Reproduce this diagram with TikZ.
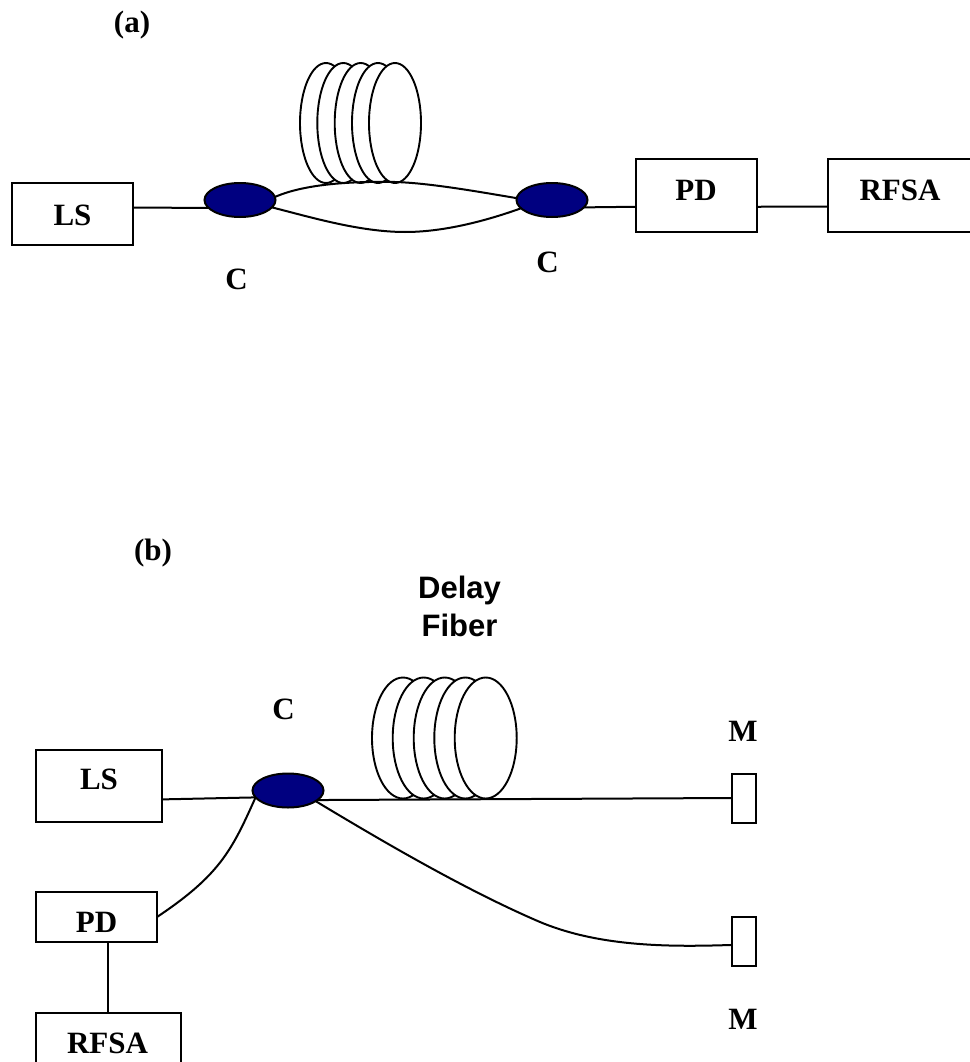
\documentclass[tikz,border=0pt]{standalone}
\usepackage{fontspec}
\setmainfont{Liberation Serif}
\setsansfont{Liberation Sans}
\usetikzlibrary{shapes.geometric}
\definecolor{navyblue}{RGB}{0,0,128}
\tikzset{
  box/.style={draw=black,fill=white,line width=2pt,rectangle,inner sep=0pt,outer sep=0pt},
  coupler/.style={draw=black,fill=navyblue,line width=2pt,ellipse,inner sep=0pt,outer sep=0pt,minimum width=71pt,minimum height=34pt},
  loop/.style={draw=black,fill=white,line width=1.9pt,ellipse,inner sep=0pt,outer sep=0pt},
  loopa/.style={loop,minimum width=52pt,minimum height=120pt},
  loopb/.style={loop,minimum width=62pt,minimum height=121pt},
  lbl/.style={font=\fontsize{31}{34}\selectfont\bfseries,inner sep=0pt},
  slbl/.style={font=\fontsize{31}{38}\selectfont\sffamily\bfseries,inner sep=0pt,align=center},
  wire/.style={draw=black,line width=2pt},
}
\begin{document}
\begin{tikzpicture}[x=1pt,y=-1pt]
\useasboundingbox (0,0) rectangle (969,1062);
% ---- (a)
\node[lbl] (tA) at (132,25) {(a)};
\foreach \n/\x in {1/326,2/343.3,3/360.7,4/378,5/395}
  \node[loopa] (ca\n) at (\x,123) {};
\node[box,minimum width=121pt,minimum height=62pt] (lsA) at (72.5,214) {};
\node[lbl] (lsAt) at (72.5,215) {LS};
\node[box,minimum width=121pt,minimum height=73pt] (pdA) at (696.5,195) {};
\node[lbl] (pdAt) at (696,190.5) {PD};
\node[box,minimum width=146pt,minimum height=73pt] (rfA) at (901,195) {};
\node[lbl] (rfAt) at (900,190.5) {RFSA};
\node[coupler] (c1) at (240,200) {};
\node[coupler] (c2) at (552,200) {};
\node[lbl] (c1t) at (236.5,279) {C};
\node[lbl] (c2t) at (547.5,262) {C};
\draw[wire] (lsA.6) -- (c1.194);
\draw[wire] (c2.-13) -- (pdA.191);
\draw[wire] (pdA.-11) -- (rfA.189);
\draw[wire] (c1.5) .. controls (300,186) and (340,181) .. (395,182)
  .. controls (430,183) and (480,192) .. (c2.177);
\draw[wire] (c1.-13) .. controls (310,217) and (360,232) .. (405,232)
  .. controls (440,232) and (480,223) .. (c2.195);
% ---- (b)
\node[lbl] (tB) at (153,553) {(b)};
\node[slbl] (delay) at (459.5,606) {Delay\\Fiber};
\foreach \n/\x in {1/403,2/423.7,3/444.7,4/465.3,5/485.7}
  \node[loopb] (cb\n) at (\x,738) {};
\node[box,minimum width=126pt,minimum height=72pt] (lsB) at (99,786) {};
\node[lbl] (lsBt) at (99,779.5) {LS};
\node[box,minimum width=121pt,minimum height=50pt] (pdB) at (96.5,917) {};
\node[lbl] (pdBt) at (96.5,922) {PD};
\node[box,minimum width=145pt,minimum height=70pt] (rfB) at (108.5,1048) {};
\node[lbl] (rfBt) at (107.5,1043.5) {RFSA};
\node[coupler] (c3) at (288,790.5) {};
\node[lbl] (c3t) at (283.5,709.5) {C};
\node[box,minimum width=24pt,minimum height=49pt] (m1) at (744,798) {};
\node[box,minimum width=24pt,minimum height=49pt] (m2) at (744,941.5) {};
\node[lbl] (m1t) at (743,731.5) {M};
\node[lbl] (m2t) at (743,1019.5) {M};
\draw[wire] (lsB.-12) -- (c3.192);
\draw[wire] (c3.-18.7) -- (m1.west);
\draw[wire] (c3.-21) .. controls (390,846) and (470,892) .. (540,922)
  .. controls (600,947) and (670,947) .. (m2.196);
\draw[wire] (pdB.east) .. controls (220,875) and (232,850) .. (c3.192);
\draw[wire] (108,942) -- (108,1013);
\end{tikzpicture}
\end{document}
